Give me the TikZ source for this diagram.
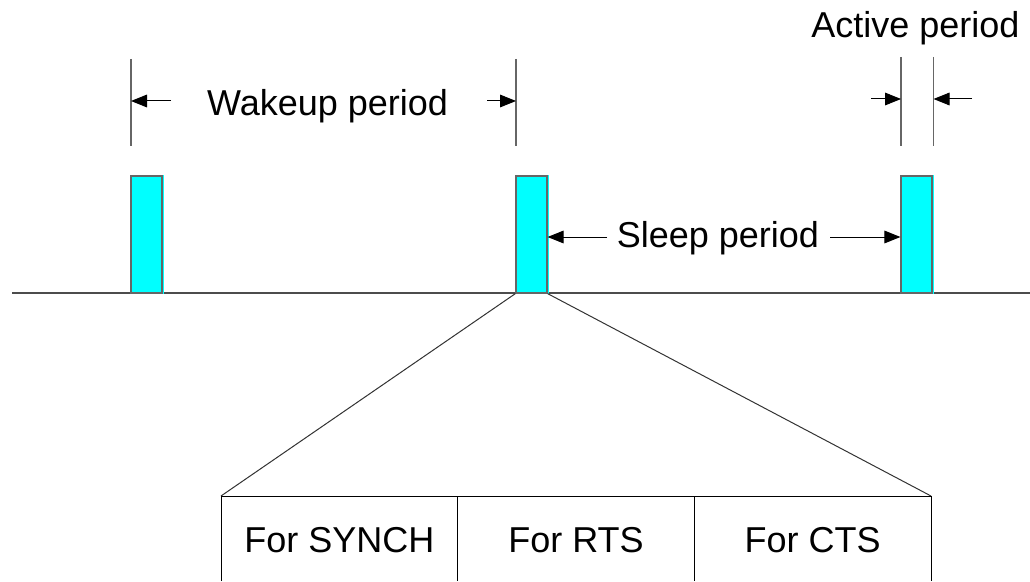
\documentclass[tikz,border=0pt]{standalone}
\usepackage{fontspec}
\setmainfont{Liberation Sans}
\usetikzlibrary{arrows.meta}
\definecolor{slotcyan}{RGB}{0,255,255}
\begin{document}
\begin{tikzpicture}[x=0.75pt,y=-0.75pt,
  lbl/.style={font=\fontsize{27}{32}\selectfont, inner sep=0pt, anchor=base},
  slot/.style={draw=black!60, fill=slotcyan, line width=0.9pt, inner sep=0pt,
               minimum width=23.25pt, minimum height=87.75pt},
  tick/.style={draw=black!60, line width=1pt},
  dimarrow/.style={draw=black, line width=0.75pt, -{Triangle[length=12pt,width=9.5pt]}},
  frame/.style={draw=black, line width=0.75pt}]
\useasboundingbox (0,0) rectangle (1030,581);

% time axis
\coordinate (axL) at (12,293);
\coordinate (axR) at (1030,293);
\draw[draw=black!70, line width=1pt] (axL) -- (axR);

% active slots on the axis
\node[slot] (s1) at (146.5,234.5) {};
\node[slot] (s2) at (531.5,234.5) {};
\node[slot] (s3) at (916.5,234.5) {};
\foreach \s in {s1,s2,s3}
  \fill[slotcyan] (\s.north east) rectangle ([xshift=1.2pt]\s.south east);

% wakeup period dimension
\coordinate (w1t) at (131,59);  \coordinate (w1b) at (131,146);
\coordinate (w2t) at (516,59);  \coordinate (w2b) at (516,146);
\draw[tick] (w1t) -- (w1b);
\draw[tick] (w2t) -- (w2b);
\coordinate (wa1) at (171,101); \coordinate (wa1e) at (131,101);
\coordinate (wa2) at (487,101); \coordinate (wa2e) at (516,101);
\draw[dimarrow] (wa1) -- (wa1e);
\draw[dimarrow] (wa2) -- (wa2e);
\node[lbl] (wake) at (327.5,116) {Wakeup period};

% active period dimension
\coordinate (a1t) at (901,57);   \coordinate (a1b) at (901,146);
\coordinate (a2t) at (933.5,57); \coordinate (a2b) at (933.5,146);
\draw[tick] (a1t) -- (a1b);
\draw[tick] (a2t) -- (a2b);
\coordinate (aa1) at (871,99);   \coordinate (aa1e) at (901,99);
\coordinate (aa2) at (972,99);   \coordinate (aa2e) at (933.5,99);
\draw[dimarrow] (aa1) -- (aa1e);
\draw[dimarrow] (aa2) -- (aa2e);
\node[lbl] (act) at (915.5,37.5) {Active period};

% sleep period dimension
\node[lbl] (sleep) at (718,247) {Sleep period};
\coordinate (sl1) at (607,237);
\coordinate (sl2) at (830,237);
\draw[dimarrow] (sl1) -- (s2.east |- sl1);
\draw[dimarrow] (sl2) -- (s3.west |- sl2);

% expanded view of one slot
\coordinate (bxTL) at (221,496);
\coordinate (bxTR) at (931,496);
\coordinate (d1) at (457.7,496);
\coordinate (d2) at (694.3,496);
\draw[draw=black!80, line width=0.75pt] (s2.south west) -- (bxTL);
\draw[draw=black!80, line width=0.75pt] (s2.south east) -- (bxTR);
\draw[frame] (bxTL |- 0,581) -- (bxTL) -- (bxTR) -- (bxTR |- 0,581);
\draw[frame] (d1) -- (d1 |- 0,581);
\draw[frame] (d2) -- (d2 |- 0,581);

\node[lbl] (c1) at (339.3,552) {For SYNCH};
\node[lbl] (c2) at (576,552) {For RTS};
\node[lbl] (c3) at (812.7,552) {For CTS};
\end{tikzpicture}
\end{document}
